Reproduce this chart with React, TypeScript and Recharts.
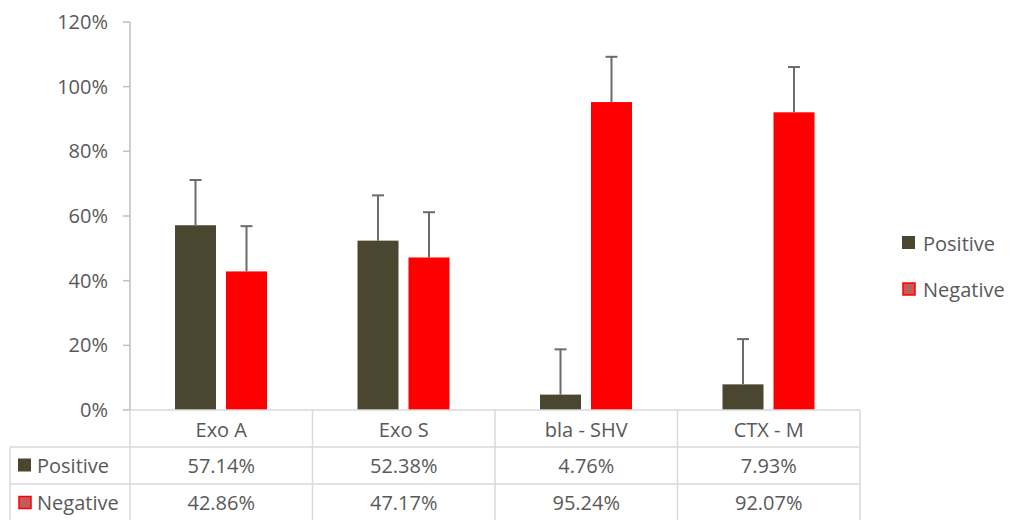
import React from 'react';
import { BarChart, Bar, XAxis, YAxis } from 'recharts';

const categories = ['Exo A', 'Exo S', 'bla - SHV', 'CTX - M'];
const positiveValues = [57.14, 52.38, 4.76, 7.93];
const negativeValues = [42.86, 47.17, 95.24, 92.07];
const positiveErrors = [14, 14, 14, 14];
const negativeErrors = [14, 14, 14, 14];
const yTicks = [0, 20, 40, 60, 80, 100, 120];

const seriesNames = ['Positive', 'Negative'];
const POS_COLOR = '#4B4630';
const NEG_COLOR = '#FF0000';
const NEG_MARK = '#C55A5A';
const TEXT = '#595959';
const GRID = '#D9D9D9';
const FONT = '"Open Sans", sans-serif';
const FS = 20;

const W = 1011;
const H = 520;
const M_LEFT = 10;
const Y_W = 120;
const M_RIGHT = 151;
const X_H = 110;
const PLOT_W = W - M_LEFT - Y_W - M_RIGHT;
const BW = PLOT_W / categories.length;
const ROW_H = 37;
const TABLE_LEFT = 10;

const data = categories.map((c, i) => ({
  name: c,
  positive: positiveValues[i],
  negative: negativeValues[i],
  posErr: positiveErrors[i],
  negErr: negativeErrors[i],
}));

const fmt = (v: number) => v.toFixed(2) + '%';

const makeShape = (fill: string, errKey: string, valKey: string) => (props: any) => {
  const { x, y, width, height, payload } = props;
  const val = payload[valKey];
  const err = payload[errKey];
  const errPx = val > 0 ? (err * height) / val : 0;
  const cx = x + width / 2;
  const top = y - errPx;
  return (
    <g>
      <rect x={x} y={y} width={width} height={height} fill={fill} />
      <line x1={cx} x2={cx} y1={y} y2={top} stroke="#6B6B6B" strokeWidth={2} />
      <line x1={cx - 6} x2={cx + 6} y1={top} y2={top} stroke="#6B6B6B" strokeWidth={2} />
    </g>
  );
};

const Marker = ({ x, y, kind }: { x: number; y: number; kind: number }) =>
  kind === 0 ? (
    <rect x={x} y={y} width={13} height={13} fill={POS_COLOR} />
  ) : (
    <rect x={x + 1} y={y + 1} width={12} height={12} fill={NEG_MARK} stroke={NEG_COLOR} strokeWidth={1.5} />
  );

const TableTick = (props: any) => {
  const { x, y, payload, index } = props;
  const left = x - BW / 2;
  const right = x + BW / 2;
  const rows = [positiveValues, negativeValues];
  return (
    <g fontFamily={FONT}>
      <line x1={right} x2={right} y1={y} y2={y + 3 * ROW_H} stroke={GRID} strokeWidth={1.5} />
      {index === 0 && (
        <>
          <line x1={left} x2={left} y1={y} y2={y + 3 * ROW_H} stroke={GRID} strokeWidth={1.5} />
          <line x1={TABLE_LEFT} x2={TABLE_LEFT} y1={y + ROW_H} y2={y + 3 * ROW_H} stroke={GRID} strokeWidth={1.5} />
          <line x1={TABLE_LEFT} x2={left} y1={y + ROW_H} y2={y + ROW_H} stroke={GRID} strokeWidth={1.5} />
          <line x1={TABLE_LEFT} x2={left} y1={y + 2 * ROW_H} y2={y + 2 * ROW_H} stroke={GRID} strokeWidth={1.5} />
          {seriesNames.map((s, r) => (
            <g key={s}>
              <Marker x={18} y={y + ROW_H * (r + 1.5) - 7} kind={r} />
              <text x={37} y={y + ROW_H * (r + 1.5)} dy="0.35em" fill={TEXT} fontSize={FS}>
                {s}
              </text>
            </g>
          ))}
        </>
      )}
      <line x1={left} x2={right} y1={y + ROW_H} y2={y + ROW_H} stroke={GRID} strokeWidth={1.5} />
      <line x1={left} x2={right} y1={y + 2 * ROW_H} y2={y + 2 * ROW_H} stroke={GRID} strokeWidth={1.5} />
      <text x={x} y={y + ROW_H * 0.55} dy="0.35em" textAnchor="middle" fill={TEXT} fontSize={FS}>
        {payload.value}
      </text>
      {rows.map((vals, r) => (
        <text key={r} x={x} y={y + ROW_H * (r + 1.5)} dy="0.35em" textAnchor="middle" fill={TEXT} fontSize={FS}>
          {fmt(vals[index])}
        </text>
      ))}
    </g>
  );
};

const LegendBox = () => (
  <div style={{ position: 'absolute', left: 902, top: 220, fontFamily: FONT, fontSize: FS, color: TEXT }}>
    {seriesNames.map((s, i) => (
      <div key={s} style={{ display: 'flex', alignItems: 'center', height: 46 }}>
        <svg width={14} height={14} style={{ marginRight: 7 }}>
          <Marker x={0} y={0} kind={i} />
        </svg>
        <span>{s}</span>
      </div>
    ))}
  </div>
);

export default function App() {
  return (
    <div style={{ position: 'absolute', left: 0, top: 0, width: W, height: H, background: '#fff' }}>
      <BarChart
        width={W}
        height={H}
        data={data}
        margin={{ top: 22, right: M_RIGHT, left: M_LEFT, bottom: 0 }}
        barSize={41}
        barGap={10}
      >
        <XAxis
          dataKey="name"
          height={X_H}
          axisLine={{ stroke: GRID, strokeWidth: 1.5 }}
          tickLine={false}
          tickSize={0}
          tickMargin={0}
          interval={0}
          tick={<TableTick />}
        />
        <YAxis
          width={Y_W}
          domain={[0, 120]}
          ticks={yTicks}
          tickFormatter={(v: number) => `${v}%`}
          axisLine={{ stroke: '#BFBFBF', strokeWidth: 1.5 }}
          tickLine={{ stroke: '#BFBFBF', strokeWidth: 1.5 }}
          tickSize={7}
          tickMargin={15}
          tick={{ fill: TEXT, fontSize: FS, fontFamily: FONT }}
        />
        <Bar dataKey="positive" fill={POS_COLOR} isAnimationActive={false} shape={makeShape(POS_COLOR, 'posErr', 'positive')} />
        <Bar dataKey="negative" fill={NEG_COLOR} isAnimationActive={false} shape={makeShape(NEG_COLOR, 'negErr', 'negative')} />
      </BarChart>
      <LegendBox />
    </div>
  );
}
